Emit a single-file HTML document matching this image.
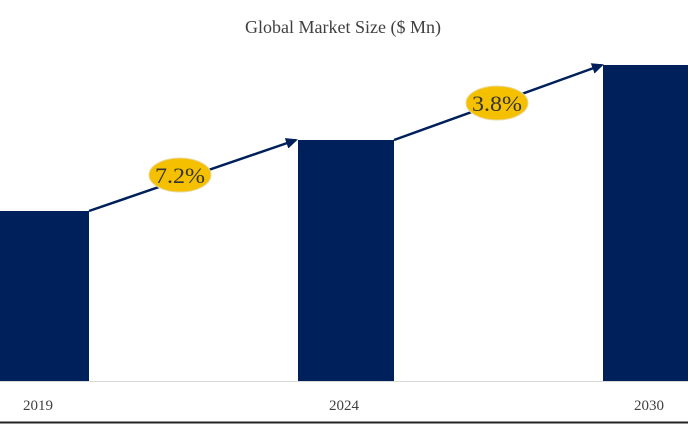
<!DOCTYPE html>
<html><head><style>body{margin:0;background:#fff}svg{display:block}</style></head><body>
<svg width="688" height="424" viewBox="0 0 688 424" xmlns="http://www.w3.org/2000/svg" font-family="Liberation Serif, serif">
<text x="343" y="33" text-anchor="middle" font-size="18" fill="#404040">Global Market Size ($ Mn)</text>
<rect x="0" y="211" width="89" height="170" fill="#00205b"/>
<rect x="298" y="140" width="96" height="241" fill="#00205b"/>
<rect x="603" y="65" width="85" height="316" fill="#00205b"/>
<line x1="0" y1="381.5" x2="688" y2="381.5" stroke="#d9d9d9" stroke-width="1"/>
<text x="38" y="410" text-anchor="middle" font-size="15" fill="#404040">2019</text>
<text x="344" y="410" text-anchor="middle" font-size="15" fill="#404040">2024</text>
<text x="649" y="410" text-anchor="middle" font-size="15" fill="#404040">2030</text>
<line x1="0" y1="422.5" x2="688" y2="422.5" stroke="#222" stroke-width="2"/>
<defs><marker id="a" markerWidth="12" markerHeight="11" refX="10" refY="5.5" orient="auto" markerUnits="userSpaceOnUse"><path d="M0,0 L12,5.5 L0,11 Z" fill="#00205b"/></marker></defs>
<line x1="89" y1="211" x2="296" y2="140" stroke="#00205b" stroke-width="2.5" marker-end="url(#a)"/>
<line x1="394" y1="140" x2="602" y2="65" stroke="#00205b" stroke-width="2.5" marker-end="url(#a)"/>
<ellipse cx="180" cy="175" rx="31" ry="17" fill="#f5c000" stroke="#e8d9a0"/>
<text x="180" y="183" text-anchor="middle" font-size="22" fill="#333" textLength="50" lengthAdjust="spacingAndGlyphs">7.2%</text>
<ellipse cx="497" cy="103" rx="31" ry="17" fill="#f5c000" stroke="#e8d9a0"/>
<text x="497" y="111" text-anchor="middle" font-size="22" fill="#333" textLength="50" lengthAdjust="spacingAndGlyphs">3.8%</text>
</svg>
</body></html>
